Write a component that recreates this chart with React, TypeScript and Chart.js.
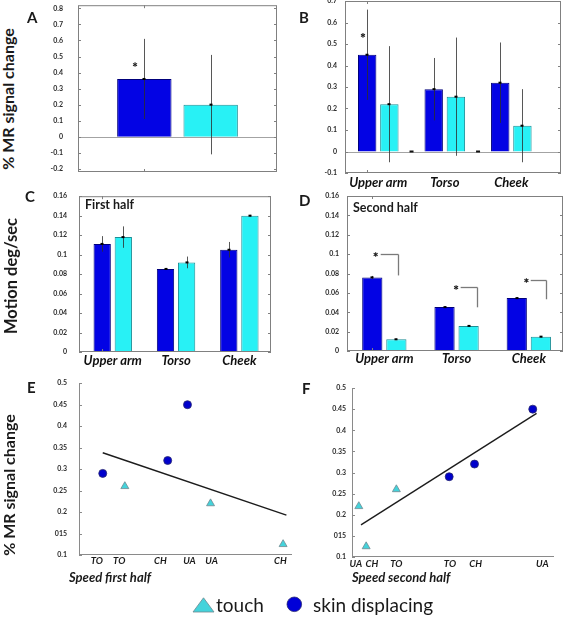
import React, { useEffect, useRef } from 'react';
import { Chart, registerables } from 'chart.js';
Chart.register(...registerables);

// ---------------- data ----------------
const sites = ['Upper arm', 'Torso', 'Cheek'];

// Panel A: % MR signal change (mean over body sites)
const aSkin = [0.36];
const aTouch = [0.2];
const aSkinErr = [0.25];
const aTouchErr = [0.31];
const aStars = [{ x: 0.86, y: 0.45 }];

// Panel B: % MR signal change per body site
const bSkin = [0.45, 0.29, 0.32];
const bTouch = [0.22, 0.255, 0.12];
const bSkinErr = [0.21, 0.145, 0.187];
const bTouchErr = [0.27, 0.275, 0.17];
const bStars = [{ x: 0.81, y: 0.54 }];

// Panel C: motion speed, first half (deg/sec)
const cSkin = [0.111, 0.0853, 0.105];
const cTouch = [0.118, 0.092, 0.14];
const cSkinErr = [0.008, 0.001, 0.008];
const cTouchErr = [0.011, 0.006, 0.0008];

// Panel D: motion speed, second half (deg/sec)
const dSkin = [0.076, 0.0453, 0.0546];
const dTouch = [0.0121, 0.0259, 0.0148];
const dSkinErr = [0.0015, 0.0008, 0.001];
const dTouchErr = [0.0006, 0.0008, 0.0006];
const dBrackets = [
  { star: 1.14, x0: 1.35, x1: 2.08, y: 0.1, yEnd: 0.078 },
  { star: 4.48, x0: 4.67, x1: 5.34, y: 0.0658, yEnd: 0.0451 },
  { star: 7.4, x0: 7.58, x1: 8.2, y: 0.0733, yEnd: 0.0534 },
];

// Panels E/F: % MR signal change per site vs speed
const mrSkin = [0.45, 0.29, 0.32];
const mrTouch = [0.22, 0.26, 0.125];
const eFit = [{ x: 0.0853, y: 0.338 }, { x: 0.141, y: 0.193 }];
const fFit = [{ x: 0.0129, y: 0.176 }, { x: 0.0774, y: 0.44 }];

// tick values / labels
const aYTicks = [-0.2, -0.1, 0, 0.1, 0.2, 0.3, 0.4, 0.5, 0.6, 0.7, 0.8];
const bYTicks = [-0.1, 0, 0.1, 0.2, 0.3, 0.4, 0.5, 0.6, 0.7];
const cdYTicks = [0, 0.02, 0.04, 0.06, 0.08, 0.1, 0.12, 0.14, 0.16];
const efYTicks = [0.1, 0.15, 0.2, 0.25, 0.3, 0.35, 0.4, 0.45, 0.5];
const efYLabels = ['0.1', '015', '0.2', '0.25', '0.3', '0.35', '0.4', '0.45', '0.5'];
const eXTicks = [0.0835, 0.0903, 0.1028, 0.1116, 0.1183, 0.1392];
const eXLabels = ['TO', 'TO', 'CH', 'UA', 'UA', 'CH'];
const fXTicks = [0.011, 0.0169, 0.0259, 0.0456, 0.055, 0.0795];
const fXLabels = ['UA', 'CH', 'TO', 'TO', 'CH', 'UA'];

// ---------------- styles ----------------
const FONT = 'Lato, "DejaVu Sans", sans-serif';
const BLUE = '#0303E4';
const BLUE_EDGE = '#00007a';
const CYAN = '#28F1F5';
const CYAN_EDGE = '#1b8f96';
const DOT = '#0000CC';
const DOT_EDGE = '#2a2a70';
const TRI = '#44D3DB';
const TRI_EDGE = '#6f8990';

type Box = { l: number; t: number; r: number; b: number };
const Y_W = 50, PAD_T = 16, PAD_R = 16, X_H = 32;

function place(b: Box) {
  return { left: b.l - Y_W, top: b.t - PAD_T, width: b.r - b.l + Y_W + PAD_R, height: b.b - b.t + PAD_T + X_H };
}

function hline(ctx: any, x0: number, x1: number, y: number) {
  ctx.beginPath(); ctx.moveTo(x0, y); ctx.lineTo(x1, y); ctx.stroke();
}
function vline(ctx: any, x: number, y0: number, y1: number) {
  ctx.beginPath(); ctx.moveTo(x, y0); ctx.lineTo(x, y1); ctx.stroke();
}
function asterisk(ctx: any, x: number, y: number, r: number) {
  ctx.save();
  ctx.strokeStyle = '#222';
  ctx.lineWidth = 1.1;
  for (let k = 0; k < 3; k++) {
    const ang = Math.PI / 2 + (k * Math.PI) / 3;
    ctx.beginPath();
    ctx.moveTo(x - r * Math.cos(ang), y - r * Math.sin(ang));
    ctx.lineTo(x + r * Math.cos(ang), y + r * Math.sin(ang));
    ctx.stroke();
  }
  ctx.restore();
}

const fmt = (v: number) => String(Math.round(v * 100) / 100);

type BarPanel = {
  box: Box;
  skin: number[]; touch: number[]; skinErr: number[]; touchErr: number[];
  yMin: number; yMax: number; yTicks: number[]; yGap: number;
  xMin: number; xMax: number; barPct: number;
  labels?: string[]; labelPad: number;
  zeroLine: boolean;
  stars?: { x: number; y: number }[];
  brackets?: { star: number; x0: number; x1: number; y: number; yEnd: number }[];
};

function barDeco(p: BarPanel) {
  return {
    id: 'barDeco',
    beforeDatasetsDraw(chart: any) {
      const { ctx, chartArea: a, scales } = chart;
      if (p.zeroLine) {
        ctx.save();
        ctx.strokeStyle = '#a3a3a3';
        ctx.lineWidth = 1;
        hline(ctx, a.left, a.right, Math.round(scales.y.getPixelForValue(0)) + 0.5);
        ctx.restore();
      }
    },
    afterDatasetsDraw(chart: any) {
      const { ctx, chartArea: a, scales } = chart;
      const x = scales.x, y = scales.y;
      ctx.save();
      chart.data.datasets.forEach((ds: any, i: number) => {
        if (!ds.errors) return;
        const meta = chart.getDatasetMeta(i);
        meta.data.forEach((el: any, j: number) => {
          const v = ds.data[j].y, e = ds.errors[j];
          const px = Math.round(el.x) + 0.5;
          ctx.strokeStyle = 'rgba(45,45,45,0.8)';
          ctx.lineWidth = 1;
          vline(ctx, px, y.getPixelForValue(v + e), y.getPixelForValue(v - e));
          ctx.fillStyle = '#000';
          ctx.fillRect(px - 2, y.getPixelForValue(v) - 1, 3, 2);
        });
      });
      ctx.strokeStyle = '#808080';
      ctx.lineWidth = 1;
      ctx.strokeRect(a.left + 0.5, a.top + 0.5, a.right - a.left - 1, a.bottom - a.top - 1);
      p.yTicks.forEach((v) => {
        const py = Math.round(y.getPixelForValue(v)) + 0.5;
        hline(ctx, a.left, a.left + 3, py);
        hline(ctx, a.right - 3, a.right, py);
      });
      const mx = Math.round(x.getPixelForValue(1)) + 0.5;
      vline(ctx, mx, a.bottom, a.bottom - 3);
      vline(ctx, mx, a.top, a.top + 3);
      (p.stars || []).forEach((s) => asterisk(ctx, x.getPixelForValue(s.x), y.getPixelForValue(s.y), 2.3));
      (p.brackets || []).forEach((br) => {
        const yy = Math.round(y.getPixelForValue(br.y)) + 0.5;
        const x1 = Math.round(x.getPixelForValue(br.x1)) + 0.5;
        ctx.strokeStyle = '#7a7a7a';
        ctx.lineWidth = 1.3;
        hline(ctx, x.getPixelForValue(br.x0), x1, yy);
        vline(ctx, x1, yy, y.getPixelForValue(br.yEnd));
        asterisk(ctx, x.getPixelForValue(br.star), yy, 2.3);
      });
      ctx.restore();
    },
  };
}

function barConfig(p: BarPanel) {
  const n = p.skin.length;
  const skinPts = p.skin.map((v, i) => ({ x: 1 + 3 * i, y: v }));
  const touchPts = p.touch.map((v, i) => ({ x: 2 + 3 * i, y: v }));
  const gapPts = Array.from({ length: n - 1 }, (_, i) => ({ x: 3 + 3 * i, y: 0 }));
  const labelX = p.labels ? p.labels.map((_, i) => 1.5 + 3 * i) : [1];
  return {
    type: 'bar',
    data: {
      datasets: [
        { label: 'skin displacing', data: skinPts, backgroundColor: BLUE, borderColor: BLUE_EDGE, borderWidth: 1,
          grouped: false, barPercentage: p.barPct, categoryPercentage: 1, errors: p.skinErr },
        { label: 'touch', data: touchPts, backgroundColor: CYAN, borderColor: CYAN_EDGE, borderWidth: 1,
          grouped: false, barPercentage: p.barPct, categoryPercentage: 1, errors: p.touchErr },
        { type: 'scatter', label: 'gap', data: gapPts, pointStyle: 'line', pointRadius: 2,
          pointBorderWidth: 2, pointBorderColor: '#111', pointBackgroundColor: '#111' },
      ],
    },
    options: {
      responsive: false,
      animation: false,
      events: [],
      layout: { padding: { top: PAD_T, right: PAD_R, left: 0, bottom: 0 } },
      plugins: { legend: { display: false }, tooltip: { enabled: false } },
      scales: {
        x: {
          type: 'linear', min: p.xMin, max: p.xMax, offset: false,
          afterBuildTicks: (s: any) => { s.ticks = labelX.map((v) => ({ value: v })); },
          afterFit: (s: any) => { s.height = X_H; },
          grid: { display: false, drawTicks: false },
          border: { display: false },
          ticks: {
            autoSkip: false, maxRotation: 0, padding: p.labelPad, color: '#111',
            font: { family: FONT, size: 13, weight: 'bold', style: 'italic' },
            callback: (_v: any, i: number) => (p.labels ? p.labels[i] : ''),
          },
        },
        y: {
          min: p.yMin, max: p.yMax,
          afterBuildTicks: (s: any) => { s.ticks = p.yTicks.map((v) => ({ value: v })); },
          afterFit: (s: any) => { s.width = Y_W; },
          grid: { display: false, drawTicks: false },
          border: { display: false },
          ticks: {
            autoSkip: false, padding: p.yGap, color: '#2b2b2b',
            font: { family: FONT, size: 7, weight: 'bold' },
            callback: (v: any) => fmt(v),
          },
        },
      },
    },
    plugins: [barDeco(p)],
  };
}

type ScatterPanel = {
  box: Box;
  skinX: number[]; touchX: number[];
  fit: { x: number; y: number }[];
  xMin: number; xMax: number; xTicks: number[]; xLabels: string[]; labelPad: number;
  yGap: number;
};

function scatterDeco() {
  return {
    id: 'scatterDeco',
    beforeDatasetsDraw(chart: any) {
      const { ctx, chartArea: a, scales } = chart;
      ctx.save();
      ctx.strokeStyle = '#8a8a8a';
      ctx.lineWidth = 1;
      vline(ctx, a.left + 0.5, a.top, a.bottom);
      hline(ctx, a.left, a.right, a.bottom - 0.5);
      efYTicks.forEach((v) => {
        const py = Math.round(scales.y.getPixelForValue(v)) + 0.5;
        hline(ctx, a.left, a.left + 3, py);
      });
      ctx.restore();
    },
  };
}

function scatterConfig(p: ScatterPanel) {
  return {
    type: 'scatter',
    data: {
      datasets: [
        { label: 'touch', data: p.touchX.map((s, i) => ({ x: s, y: mrTouch[i] })), pointStyle: 'triangle',
          pointRadius: 4.6, pointBackgroundColor: TRI, pointBorderColor: TRI_EDGE, pointBorderWidth: 0.8, clip: false },
        { label: 'skin displacing', data: p.skinX.map((s, i) => ({ x: s, y: mrSkin[i] })), pointStyle: 'circle',
          pointRadius: 4, pointBackgroundColor: DOT, pointBorderColor: DOT_EDGE, pointBorderWidth: 0.8, clip: false },
        { label: 'fit', data: p.fit, showLine: true, borderColor: '#1c1c1c', borderWidth: 1.4, pointRadius: 0, fill: false },
      ],
    },
    options: {
      responsive: false,
      animation: false,
      events: [],
      layout: { padding: { top: PAD_T, right: PAD_R, left: 0, bottom: 0 } },
      plugins: { legend: { display: false }, tooltip: { enabled: false } },
      scales: {
        x: {
          type: 'linear', min: p.xMin, max: p.xMax, offset: false,
          afterBuildTicks: (s: any) => { s.ticks = p.xTicks.map((v) => ({ value: v })); },
          afterFit: (s: any) => { s.height = X_H; },
          grid: { display: false, drawTicks: false },
          border: { display: false },
          ticks: {
            autoSkip: false, maxRotation: 0, padding: p.labelPad, color: '#1a1a1a',
            font: { family: FONT, size: 9.5, weight: 'bold', style: 'italic' },
            callback: (_v: any, i: number) => p.xLabels[i],
          },
        },
        y: {
          min: 0.1, max: 0.5,
          afterBuildTicks: (s: any) => { s.ticks = efYTicks.map((v) => ({ value: v })); },
          afterFit: (s: any) => { s.width = Y_W; },
          grid: { display: false, drawTicks: false },
          border: { display: false },
          ticks: {
            autoSkip: false, padding: p.yGap, color: '#2b2b2b',
            font: { family: FONT, size: 7, weight: 'bold' },
            callback: (_v: any, i: number) => efYLabels[i],
          },
        },
      },
    },
    plugins: [scatterDeco()],
  };
}

function ChartCanvas({ box, config }: { box: Box; config: () => any }) {
  const ref = useRef<HTMLCanvasElement>(null);
  const pos = place(box);
  useEffect(() => {
    const chart = new Chart(ref.current as HTMLCanvasElement, config());
    return () => chart.destroy();
  }, []);
  return (
    <canvas
      ref={ref}
      width={pos.width}
      height={pos.height}
      style={{ position: 'absolute', left: pos.left, top: pos.top, width: pos.width, height: pos.height }}
    />
  );
}

const panelA: BarPanel = {
  box: { l: 78, t: 2, r: 277, b: 172 }, skin: aSkin, touch: aTouch, skinErr: aSkinErr, touchErr: aTouchErr,
  yMin: -0.22, yMax: 0.82, yTicks: aYTicks, yGap: 15, xMin: 0, xMax: 3, barPct: 0.82,
  labelPad: 2, zeroLine: true, stars: aStars,
};
const panelB: BarPanel = {
  box: { l: 345, t: 1, r: 561, b: 173 }, skin: bSkin, touch: bTouch, skinErr: bSkinErr, touchErr: bTouchErr,
  yMin: -0.1, yMax: 0.7, yTicks: bYTicks, yGap: 8, xMin: 0, xMax: 9.74, barPct: 0.83,
  labels: sites, labelPad: 2.5, zeroLine: true, stars: bStars,
};
const panelC: BarPanel = {
  box: { l: 79, t: 196, r: 271, b: 352 }, skin: cSkin, touch: cTouch, skinErr: cSkinErr, touchErr: cTouchErr,
  yMin: 0, yMax: 0.16, yTicks: cdYTicks, yGap: 12, xMin: -0.1, xMax: 9.0, barPct: 0.82,
  labels: sites, labelPad: 1, zeroLine: false,
};
const panelD: BarPanel = {
  box: { l: 347, t: 196, r: 563, b: 351 }, skin: dSkin, touch: dTouch, skinErr: dSkinErr, touchErr: dTouchErr,
  yMin: 0, yMax: 0.16, yTicks: cdYTicks, yGap: 8, xMin: -0.05, xMax: 8.92, barPct: 0.84,
  labels: sites, labelPad: 0, zeroLine: false, brackets: dBrackets,
};
const panelE: ScatterPanel = {
  box: { l: 79, t: 383, r: 292, b: 555 }, skinX: cSkin, touchX: cTouch, fit: eFit,
  xMin: 0.0781, xMax: 0.1427, xTicks: eXTicks, xLabels: eXLabels, labelPad: 0, yGap: 12,
};
const panelF: ScatterPanel = {
  box: { l: 352, t: 388, r: 554, b: 557 }, skinX: dSkin, touchX: dTouch, fit: fFit,
  xMin: 0.0096, xMax: 0.0838, xTicks: fXTicks, xLabels: fXLabels, labelPad: 1, yGap: 6,
};

function Txt({ x, y, size, children, weight = 700, italic = false }: any) {
  return (
    <div
      style={{
        position: 'absolute', left: x, top: y, fontSize: size, fontWeight: weight,
        fontStyle: italic ? 'italic' : 'normal', lineHeight: 1, whiteSpace: 'nowrap',
      }}
    >
      {children}
    </div>
  );
}

function VTxt({ cx, cy, size, children }: any) {
  return (
    <div
      style={{
        position: 'absolute', left: cx, top: cy, fontSize: size, fontWeight: 700, lineHeight: 1,
        whiteSpace: 'nowrap', transform: 'translate(-50%, -50%) rotate(-90deg)',
      }}
    >
      {children}
    </div>
  );
}

export default function App() {
  return (
    <div
      style={{
        position: 'fixed', left: 0, top: 0, width: 568, height: 617, background: '#fff', overflow: 'hidden',
        fontFamily: FONT, color: '#1a1a1a',
      }}
    >
      <ChartCanvas box={panelA.box} config={() => barConfig(panelA)} />
      <ChartCanvas box={panelB.box} config={() => barConfig(panelB)} />
      <ChartCanvas box={panelC.box} config={() => barConfig(panelC)} />
      <ChartCanvas box={panelD.box} config={() => barConfig(panelD)} />
      <ChartCanvas box={panelE.box} config={() => scatterConfig(panelE)} />
      <ChartCanvas box={panelF.box} config={() => scatterConfig(panelF)} />

      <Txt x={27} y={10} size={15}>A</Txt>
      <Txt x={299} y={10} size={15}>B</Txt>
      <Txt x={25} y={189} size={15}>C</Txt>
      <Txt x={299} y={192.5} size={15}>D</Txt>
      <Txt x={27} y={380} size={15}>E</Txt>
      <Txt x={302} y={381} size={15}>F</Txt>

      <Txt x={85} y={198.6} size={12.5}>First half</Txt>
      <Txt x={353} y={202} size={12.5}>Second half</Txt>

      <VTxt cx={8} cy={99} size={16}>% MR signal change</VTxt>
      <VTxt cx={10.5} cy={276} size={16.5}>Motion deg/sec</VTxt>
      <VTxt cx={8.5} cy={485} size={16}>% MR signal change</VTxt>

      <Txt x={69} y={570.5} size={13} italic>Speed first half</Txt>
      <Txt x={352} y={570.5} size={13} italic>Speed second half</Txt>

      <svg style={{ position: 'absolute', left: 192, top: 597 }} width={23} height={16}>
        <polygon points="11.5,0.8 22,15 1,15" fill={TRI} stroke={TRI_EDGE} strokeWidth={0.8} />
      </svg>
      <Txt x={216} y={595} size={19} weight={400}>touch</Txt>
      <svg style={{ position: 'absolute', left: 286, top: 596 }} width={17} height={17}>
        <circle cx={8.3} cy={8.3} r={7.3} fill="#0000D8" stroke={DOT_EDGE} strokeWidth={0.8} />
      </svg>
      <Txt x={313} y={595} size={19} weight={400}>skin displacing</Txt>
    </div>
  );
}
